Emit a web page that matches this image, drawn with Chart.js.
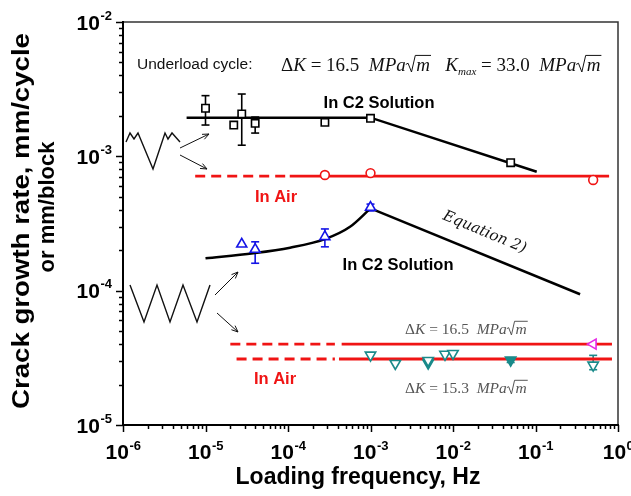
<!DOCTYPE html>
<html>
<head>
<meta charset="utf-8">
<script src="https://cdn.jsdelivr.net/npm/chart.js@4.4.0/dist/chart.umd.min.js"></script>
<style>
  html, body { margin: 0; padding: 0; background: #fff; }
  #wrap { width: 631px; height: 496px; }
</style>
</head>
<body>
<div id="wrap"><canvas id="myChart" width="631" height="496"></canvas></div>
<script>
// ---- values ----
var xDecades = [-6, -5, -4, -3, -2, -1, 0];
var yDecades = [-5, -4, -3, -2];

// underload cycle, in C2 solution (open squares)
var sqX = [1e-5, 2.75e-5, 2.2e-5, 4e-5, 2.8e-4, 1e-3, 5e-2];
var sqY = [2.28e-3, 2.07e-3, 1.71e-3, 1.76e-3, 1.79e-3, 1.92e-3, 8.96e-4];
var sqLo = [1.71e-3, 1.21e-3, null, 1.49e-3, null, null, null];
var sqHi = [2.83e-3, 2.91e-3, null, 1.96e-3, null, null, null];
var c2UlX = [5.9e-6, 1e-3, 0.1035];
var c2UlY = [1.94e-3, 1.94e-3, 7.68e-4];

// underload cycle, in air (open circles)
var circX = [2.8e-4, 1e-3, 0.5];
var circY = [7.26e-4, 7.5e-4, 6.67e-4];
var airUlY = 7.13e-4;
var airUlDashX = [7.5e-6, 1.05e-4];
var airUlSolidX = [1.05e-4, 0.78];

// constant amplitude, in C2 solution (blue triangles)
var triX = [2.75e-5, 4e-5, 2.8e-4, 1e-3];
var triY = [2.22e-4, 2.03e-4, 2.52e-4, 4.17e-4];
var triLo = [null, 1.6e-4, 2.12e-4, 3.92e-4];
var triHi = [null, 2.31e-4, 2.88e-4, 4.41e-4];
var curveX = [1e-5, 3.8e-5, 1.06e-4, 2.8e-4, 5.65e-4, 1e-3];
var curveY = [1.74e-4, 1.9e-4, 2.09e-4, 2.42e-4, 2.99e-4, 4.1e-4];
var eqX = [1e-3, 0.347];
var eqY = [4.1e-4, 9.4e-5];

// constant amplitude, in air
var airHiY = 4.0e-5;   // dK = 16.5
var airLoY = 3.1e-5;   // dK = 15.3
var airHiDashX = [2e-5, 3.7e-4];
var airHiSolidX = [4.47e-4, 0.845];
var airLoDashX = [2.38e-5, 3.7e-4];
var airLoSolidX = [4.15e-4, 0.845];
var tealX = [1e-3, 2e-3, 5e-3, 8e-3, 1e-2, 0.5];
var tealY = [3.31e-5, 2.87e-5, 3.02e-5, 3.36e-5, 3.41e-5, 2.79e-5];
var tealLo = [null, null, null, null, null, 2.58e-5];
var tealHi = [null, null, null, null, null, 3.3e-5];
var tealFillX = [5e-3, 5e-2];
var tealFillY = [2.89e-5, 3.04e-5];
var tealFillLo = [null, 2.92e-5];
var tealFillHi = [null, 3.17e-5];
var magX = [0.5];
var magY = [4.0e-5];

var RED = 'rgb(240,20,20)';
var TEAL = 'rgb(26,138,138)';
var BLUE = 'rgb(20,20,230)';
var MAG = 'rgb(230,40,230)';

function pts(xs, ys) {
    return xs.map(function(x, i) { return {x: x, y: ys[i]}; });
}
function flat(xs, y) {
    return xs.map(function(x) { return {x: x, y: y}; });
}

function lineSet(data, color, dash, width) {
    return {
        data: data, showLine: true, borderColor: color, borderWidth: width || 2.5,
        borderDash: dash || [], pointRadius: 0, fill: false, order: 2, tension: 0
    };
}
function markSet(data, color, style, r, rot, fillColor, lo, hi) {
    return {
        data: data, showLine: false, borderColor: color, backgroundColor: fillColor || '#fff',
        pointStyle: style, pointRadius: r, pointRotation: rot || 0, pointBorderWidth: 1.6,
        order: 0, errLo: lo, errHi: hi
    };
}

var curveSet = lineSet(pts(curveX, curveY), '#000', [], 2.5);
curveSet.tension = 0.4;
curveSet.cubicInterpolationMode = 'monotone';

var datasets = [
    lineSet(pts(c2UlX, c2UlY), '#000'),
    lineSet(flat(airUlDashX, airUlY), RED, [10, 6], 2.8),
    lineSet(flat(airUlSolidX, airUlY), RED, [], 2.8),
    curveSet,
    lineSet(pts(eqX, eqY), '#000'),
    lineSet(flat(airHiDashX, airHiY), RED, [10, 6], 2.8),
    lineSet(flat(airHiSolidX, airHiY), RED, [], 2.8),
    lineSet(flat(airLoDashX, airLoY), RED, [10, 6], 2.8),
    lineSet(flat(airLoSolidX, airLoY), RED, [], 2.8),
    markSet(pts(sqX, sqY), '#000', 'rect', 5.2, 0, '#fff', sqLo, sqHi),
    markSet(pts(circX, circY), RED, 'circle', 4.4, 0, '#fff'),
    markSet(pts(triX, triY), BLUE, 'triangle', 5.8, 0, '#fff', triLo, triHi),
    markSet(pts(tealX, tealY), TEAL, 'triangle', 6, 180, '#fff', tealLo, tealHi),
    markSet(pts(tealFillX, tealFillY), TEAL, 'triangle', 6, 180, TEAL, tealFillLo, tealFillHi),
    markSet(pts(magX, magY), MAG, 'triangle', 5.8, 270, '#fff')
];

// formula helper: parts are [text, style]; style r=regular, i=italic, s=subscript, q=sqrt over text
function formula(ctx, parts, x, y, size, color) {
    var cx = x;
    ctx.fillStyle = color;
    ctx.strokeStyle = color;
    ctx.textBaseline = 'alphabetic';
    ctx.textAlign = 'left';
    parts.forEach(function(p) {
        var t = p[0], st = p[1];
        if (st === 'r') {
            ctx.font = size + 'px "Liberation Serif"';
            ctx.fillText(t, cx, y);
            cx += ctx.measureText(t).width;
        } else if (st === 'i') {
            ctx.font = 'italic ' + size + 'px "Liberation Serif"';
            ctx.fillText(t, cx, y);
            cx += ctx.measureText(t).width;
        } else if (st === 's') {
            ctx.font = 'italic ' + Math.round(size * 0.6) + 'px "Liberation Serif"';
            ctx.fillText(t, cx, y + size * 0.22);
            cx += ctx.measureText(t).width;
        } else if (st === 'q') {
            // radical sign then overlined text
            var h = size * 0.82;
            ctx.lineWidth = 1;
            ctx.beginPath();
            ctx.moveTo(cx, y - h * 0.42);
            ctx.lineTo(cx + size * 0.12, y - h * 0.5);
            ctx.lineTo(cx + size * 0.3, y + 1);
            ctx.lineTo(cx + size * 0.5, y - h);
            ctx.stroke();
            cx += size * 0.5;
            ctx.font = 'italic ' + size + 'px "Liberation Serif"';
            var w = ctx.measureText(t).width;
            ctx.beginPath();
            ctx.moveTo(cx, y - h);
            ctx.lineTo(cx + w + 2, y - h);
            ctx.stroke();
            ctx.fillText(t, cx + 1, y);
            cx += w + 2;
        }
    });
    return cx;
}

function line(ctx, pts) {
    ctx.beginPath();
    ctx.moveTo(pts[0][0], pts[0][1]);
    for (var i = 1; i < pts.length; i++) ctx.lineTo(pts[i][0], pts[i][1]);
    ctx.stroke();
}
function arrow(ctx, x0, y0, x1, y1) {
    line(ctx, [[x0, y0], [x1, y1]]);
    var a = Math.atan2(y1 - y0, x1 - x0), L = 7;
    line(ctx, [[x1 - L * Math.cos(a - 0.4), y1 - L * Math.sin(a - 0.4)], [x1, y1],
               [x1 - L * Math.cos(a + 0.4), y1 - L * Math.sin(a + 0.4)]]);
}

var decor = {
    id: 'decor',
    beforeDatasetsDraw: function(chart) {
        var ctx = chart.ctx, xs = chart.scales.x, ys = chart.scales.y;
        ctx.save();
        chart.data.datasets.forEach(function(ds) {
            if (!ds.errLo) return;
            ctx.strokeStyle = ds.borderColor;
            ctx.lineWidth = 1.6;
            ds.data.forEach(function(p, i) {
                if (ds.errLo[i] == null) return;
                var px = xs.getPixelForValue(p.x);
                var a = ys.getPixelForValue(ds.errLo[i]), b = ys.getPixelForValue(ds.errHi[i]);
                line(ctx, [[px, a], [px, b]]);
                line(ctx, [[px - 4, a], [px + 4, a]]);
                line(ctx, [[px - 4, b], [px + 4, b]]);
            });
        });
        ctx.restore();
    },
    afterDraw: function(chart) {
        var ctx = chart.ctx, xs = chart.scales.x, ys = chart.scales.y, ca = chart.chartArea;
        ctx.save();
        // frame
        ctx.strokeStyle = '#333';
        ctx.lineWidth = 1.5;
        line(ctx, [[ca.left, ca.top], [ca.right, ca.top], [ca.right, ca.bottom]]);
        ctx.strokeStyle = '#000';
        ctx.lineWidth = 2;
        line(ctx, [[ca.left, ca.top - 1], [ca.left, ca.bottom], [ca.right + 1, ca.bottom]]);

        // log ticks
        ctx.lineWidth = 1.5;
        xDecades.forEach(function(d) {
            for (var k = 1; k <= 9; k++) {
                if (d === 0 && k > 1) break;
                var px = Math.round(xs.getPixelForValue(k * Math.pow(10, d))) + 0.5;
                line(ctx, [[px, ca.bottom], [px, ca.bottom + (k === 1 ? 7 : 4)]]);
            }
        });
        yDecades.forEach(function(d) {
            for (var k = 1; k <= 9; k++) {
                if (d === -2 && k > 1) break;
                var py = Math.round(ys.getPixelForValue(k * Math.pow(10, d))) + 0.5;
                line(ctx, [[ca.left, py], [ca.left - (k === 1 ? 7 : 4), py]]);
            }
        });

        // tick labels 10^n
        ctx.fillStyle = '#000';
        ctx.textBaseline = 'middle';
        xDecades.forEach(function(d) {
            var px = xs.getPixelForValue(Math.pow(10, d));
            ctx.font = 'bold 21px "Liberation Sans"';
            var w1 = ctx.measureText('10').width;
            ctx.font = 'bold 13px "Liberation Sans"';
            var w2 = ctx.measureText(String(d)).width;
            var x0 = px - (w1 + w2) / 2;
            ctx.textAlign = 'left';
            ctx.font = 'bold 21px "Liberation Sans"';
            ctx.fillText('10', x0, ca.bottom + 28);
            ctx.font = 'bold 13px "Liberation Sans"';
            ctx.fillText(String(d), x0 + w1 + 0.5, ca.bottom + 21);
        });
        yDecades.forEach(function(d) {
            var py = ys.getPixelForValue(Math.pow(10, d));
            ctx.font = 'bold 13px "Liberation Sans"';
            var w2 = ctx.measureText(String(d)).width;
            ctx.textAlign = 'right';
            ctx.fillText(String(d), 112, py - 6);
            ctx.font = 'bold 21px "Liberation Sans"';
            ctx.fillText('10', 112 - w2 - 0.5, py + 2);
        });

        // axis titles
        ctx.textAlign = 'center';
        ctx.font = 'bold 23px "Liberation Sans"';
        ctx.fillText('Loading frequency, Hz', 358, 478);
        ctx.save();
        ctx.translate(23, 221);
        ctx.rotate(-Math.PI / 2);
        ctx.scale(1.2, 1);
        ctx.font = 'bold 23px "Liberation Sans"';
        ctx.fillText('Crack growth rate, mm/cycle', 0, 0);
        ctx.restore();
        ctx.save();
        ctx.translate(48, 207);
        ctx.rotate(-Math.PI / 2);
        ctx.font = 'bold 22px "Liberation Sans"';
        ctx.fillText('or mm/block', 0, 0);
        ctx.restore();

        // in-plot labels
        ctx.font = 'bold 16.5px "Liberation Sans"';
        ctx.fillStyle = '#000';
        ctx.fillText('In C2 Solution', 379, 103);
        ctx.fillText('In C2 Solution', 398, 265);
        ctx.fillStyle = RED;
        ctx.fillText('In Air', 276, 197);
        ctx.fillText('In Air', 275, 379);

        ctx.fillStyle = '#111';
        ctx.textAlign = 'left';
        ctx.font = '15.5px "Liberation Sans"';
        ctx.fillText('Underload cycle:', 137, 65);
        formula(ctx, [['\u0394', 'r'], ['K', 'i'], [' = 16.5  ', 'r'], ['MPa', 'i'], ['m', 'q'],
                      ['   ', 'r'], ['K', 'i'], ['max', 's'], [' = 33.0  ', 'r'], ['MPa', 'i'], ['m', 'q']],
                281, 71, 19, '#111');
        formula(ctx, [['\u0394', 'r'], ['K', 'i'], [' = 16.5  ', 'r'], ['MPa', 'i'], ['m', 'q']],
                405, 334, 15.5, '#555');
        formula(ctx, [['\u0394', 'r'], ['K', 'i'], [' = 15.3  ', 'r'], ['MPa', 'i'], ['m', 'q']],
                405, 393, 15.5, '#555');

        // Equation 2) along the fitted line
        ctx.save();
        ctx.translate(483, 236);
        ctx.rotate(22.5 * Math.PI / 180);
        ctx.textAlign = 'center';
        ctx.font = 'italic 15px "DejaVu Serif"';
        ctx.fillStyle = '#111';
        ctx.fillText('Equation 2)', 0, 0);
        ctx.restore();

        // waveform sketches and arrows
        ctx.strokeStyle = '#111';
        ctx.lineWidth = 1.4;
        line(ctx, [[126, 142], [130, 133], [134, 139], [138, 133], [153, 169], [165, 133],
                   [168, 139], [172, 133], [180, 142]]);
        ctx.lineWidth = 1;
        arrow(ctx, 180, 148, 209, 134);
        arrow(ctx, 180, 155, 207, 169);
        ctx.lineWidth = 1.4;
        line(ctx, [[130, 285], [144, 322], [157, 285], [170, 322], [183, 285], [197, 322], [210, 285]]);
        ctx.lineWidth = 1;
        arrow(ctx, 215, 295, 238, 272);
        arrow(ctx, 217, 313, 238, 332);
        ctx.restore();
    }
};

var ctx = document.getElementById('myChart').getContext('2d');
var myChart = new Chart(ctx, {
    type: 'line',
    data: { datasets: datasets },
    options: {
        responsive: false,
        animation: false,
        layout: { padding: { left: 0, top: 22, right: 13, bottom: 0 } },
        plugins: { legend: { display: false }, tooltip: { enabled: false } },
        scales: {
            x: {
                type: 'logarithmic', min: 1e-6, max: 1,
                grid: { display: false }, border: { display: false },
                ticks: { display: false },
                afterFit: function(s) { s.height = 71; }
            },
            y: {
                type: 'logarithmic', min: 1e-5, max: 1e-2,
                grid: { display: false }, border: { display: false },
                ticks: { display: false },
                afterFit: function(s) { s.width = 123; }
            }
        }
    },
    plugins: [decor]
});
</script>
</body>
</html>
